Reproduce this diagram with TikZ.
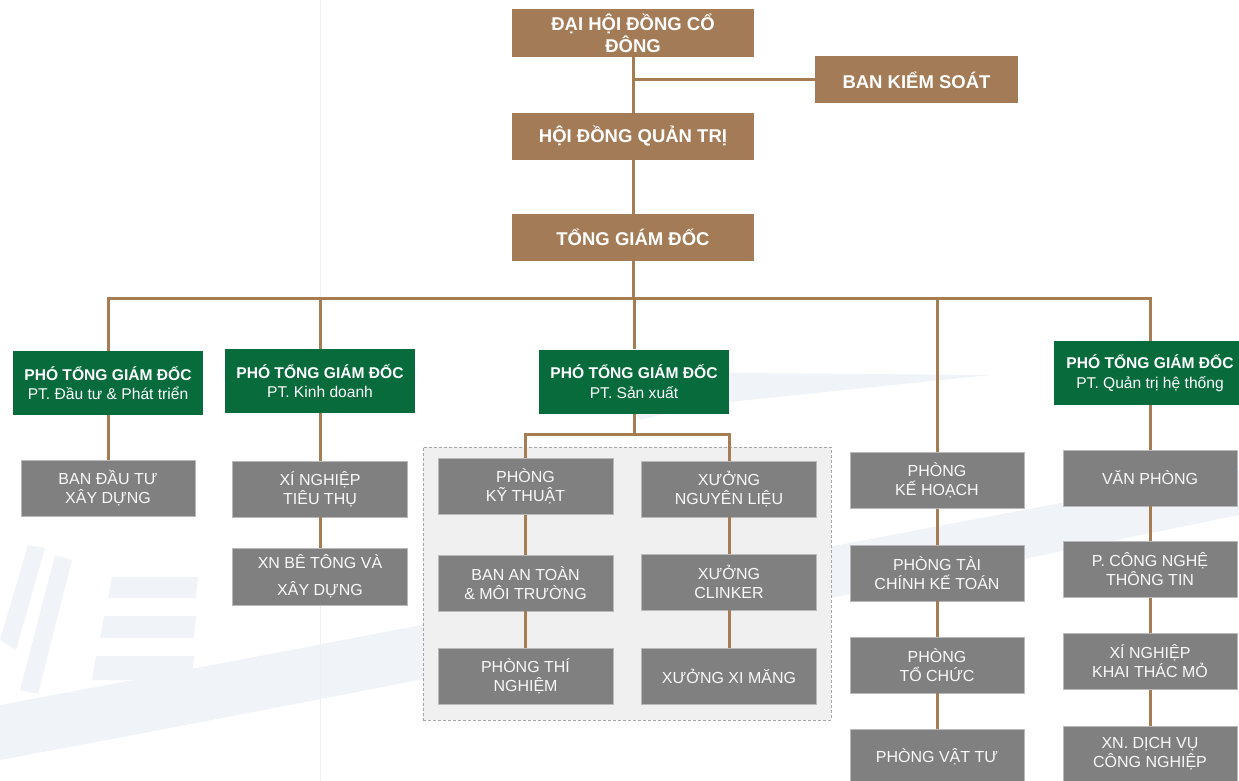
\documentclass[tikz,border=0pt]{standalone}
\usepackage{fontspec}
\setmainfont{Liberation Sans}
\definecolor{brownC}{HTML}{A37B56}
\definecolor{lineC}{HTML}{A67C52}
\definecolor{greenC}{HTML}{076B3C}
\definecolor{grayC}{HTML}{808080}
\definecolor{wmC}{HTML}{F0F3F8}
\definecolor{grpC}{HTML}{F0F0F0}
\tikzset{
  topbox/.style={fill=brownC, text=white, inner sep=0pt, align=center, minimum width=242pt, minimum height=47pt,
     font=\bfseries\fontsize{18.5}{22}\selectfont},
  vpbox/.style={fill=greenC, text=white, inner sep=0pt, align=center, minimum width=190pt, minimum height=64pt,
     font=\fontsize{15.6}{19.5}\selectfont},
  unitbox/.style={fill=grayC, draw=gray!55, line width=0.8pt, text={white!95!gray}, inner sep=0pt, align=center,
     minimum width=175pt, minimum height=56pt, font=\fontsize{16}{19}\selectfont},
  conn/.style={draw=lineC, line width=3pt},
  grpbox/.style={fill=grpC, draw=gray!70, densely dashed, line width=0.8pt, inner sep=0pt, minimum width=408pt, minimum height=273pt},
  wm/.style={fill=wmC, draw=none}
}
\begin{document}
\begin{tikzpicture}[x=1pt,y=-1pt]
\useasboundingbox (0,0) rectangle (1239,781);
\clip (0,0) rectangle (1239,781);
% faint watermark
\fill[wm] (0,705) .. controls (350,640) and (750,560) .. (1239,470) -- (1239,515) .. controls (750,615) and (350,695) .. (0,760) -- cycle;
\fill[wm] (610,372) -- (990,375) -- (700,405) -- (640,420) -- cycle;
\fill[wm] (112,577) -- (198,577) -- (196,598) -- (108,598) -- cycle;
\fill[wm] (104,616) -- (196,616) -- (194,638) -- (100,638) -- cycle;
\fill[wm] (96,656) -- (194,656) -- (192,680) -- (92,680) -- cycle;
\fill[wm] (0,640) -- (28,545) -- (45,548) -- (16,650) -- cycle;
\fill[wm] (20,690) -- (55,555) -- (72,560) -- (38,694) -- cycle;
\draw[gray!12, line width=0.8pt] (320,0) -- (320,781);

% container of production units
\node[grpbox] (grp) at (627,583.5) {};

% top level
\node[topbox, minimum height=48pt] (dhdcd) at (633,33) {ĐẠI HỘI ĐỒNG CỔ\\ĐÔNG};
\node[topbox, minimum width=203pt] (bks) at (916.5,80) {BAN KIỂM SOÁT};
\node[topbox] (hdqt) at (633,136.5) {HỘI ĐỒNG QUẢN TRỊ};
\node[topbox] (tgd) at (633,237.5) {TỔNG GIÁM ĐỐC};
\coordinate (j1) at (633,80);
\coordinate (bus) at (633,298);

% vice directors
\node[vpbox] (g1) at (108,383) {{\bfseries PHÓ TỔNG GIÁM ĐỐC}\\PT. Đầu tư \& Phát triển};
\node[vpbox] (g2) at (320,381) {{\bfseries PHÓ TỔNG GIÁM ĐỐC}\\PT. Kinh doanh};
\node[vpbox] (g3) at (634,381.5) {{\bfseries PHÓ TỔNG GIÁM ĐỐC}\\PT. Sản xuất};
\node[vpbox, minimum width=192pt] (g5) at (1150,373) {{\bfseries PHÓ TỔNG GIÁM ĐỐC}\\PT. Quản trị hệ thống};

% column 1
\node[unitbox, minimum width=174pt] (b1) at (108,488) {BAN ĐẦU TƯ\\XÂY DỰNG};
% column 2
\node[unitbox] (b2a) at (320,489) {XÍ NGHIỆP\\TIÊU THỤ};
\node[unitbox, minimum height=57pt, font=\fontsize{16}{27}\selectfont] (b2b) at (320,576.5) {XN BÊ TÔNG VÀ\\XÂY DỰNG};
% column 3 (production)
\node[unitbox] (p1) at (525.5,486.5) {PHÒNG\\KỸ THUẬT};
\node[unitbox] (p2) at (525.5,583) {BAN AN TOÀN\\\& MÔI TRƯỜNG};
\node[unitbox] (p3) at (525.5,676.5) {PHÒNG THÍ\\NGHIỆM};
\node[unitbox] (q1) at (729,489) {XƯỞNG\\NGUYÊN LIỆU};
\node[unitbox] (q2) at (729,582) {XƯỞNG\\CLINKER};
\node[unitbox] (q3) at (729,676.5) {XƯỞNG XI MĂNG};
\coordinate (split) at (634,434);
% column 4
\node[unitbox, minimum width=174pt] (k1) at (937,480.5) {PHÒNG\\KẾ HOẠCH};
\node[unitbox, minimum width=174pt] (k2) at (937,573) {PHÒNG TÀI\\CHÍNH KẾ TOÁN};
\node[unitbox, minimum width=174pt] (k3) at (937,665) {PHÒNG\\TỔ CHỨC};
\node[unitbox, minimum width=174pt] (k4) at (937,757) {PHÒNG VẬT TƯ};
% column 5
\node[unitbox, minimum width=174pt] (v1) at (1150,478) {VĂN PHÒNG};
\node[unitbox, minimum width=174pt] (v2) at (1150,569.5) {P. CÔNG NGHỆ\\THÔNG TIN};
\node[unitbox, minimum width=174pt] (v3) at (1150,661.5) {XÍ NGHIỆP\\KHAI THÁC MỎ};
\node[unitbox, minimum width=174pt] (v4) at (1150,754) {XN. DỊCH VỤ\\CÔNG NGHIỆP};

% connectors
\draw[conn] (dhdcd.south) -- (hdqt.north);
\draw[conn] (j1) -- (j1 -| bks.west);
\draw[conn] (hdqt.south) -- (tgd.north);
\draw[conn] (tgd.south) -- (bus);
\draw[conn] (g1.north) -- (g1.north |- bus) -- (g5.north |- bus) -- (g5.north);
\draw[conn] (g2.north) -- (g2.north |- bus);
\draw[conn] (g3.north) -- (g3.north |- bus);
\draw[conn] (k1.north) -- (k1.north |- bus);
\draw[conn] (g1.south) -- (b1.north);
\draw[conn] (g2.south) -- (b2a.north);
\draw[conn] (b2a.south) -- (b2b.north);
\draw[conn] (g3.south) -- (split);
\draw[conn] (p1.north) -- (p1.north |- split) -- (q1.north |- split) -- (q1.north);
\draw[conn] (p1.south) -- (p2.north);
\draw[conn] (p2.south) -- (p3.north);
\draw[conn] (q1.south) -- (q2.north);
\draw[conn] (q2.south) -- (q3.north);
\draw[conn] (k1.south) -- (k2.north);
\draw[conn] (k2.south) -- (k3.north);
\draw[conn] (k3.south) -- (k4.north);
\draw[conn] (g5.south) -- (v1.north);
\draw[conn] (v1.south) -- (v2.north);
\draw[conn] (v2.south) -- (v3.north);
\draw[conn] (v3.south) -- (v4.north);
\end{tikzpicture}
\end{document}
